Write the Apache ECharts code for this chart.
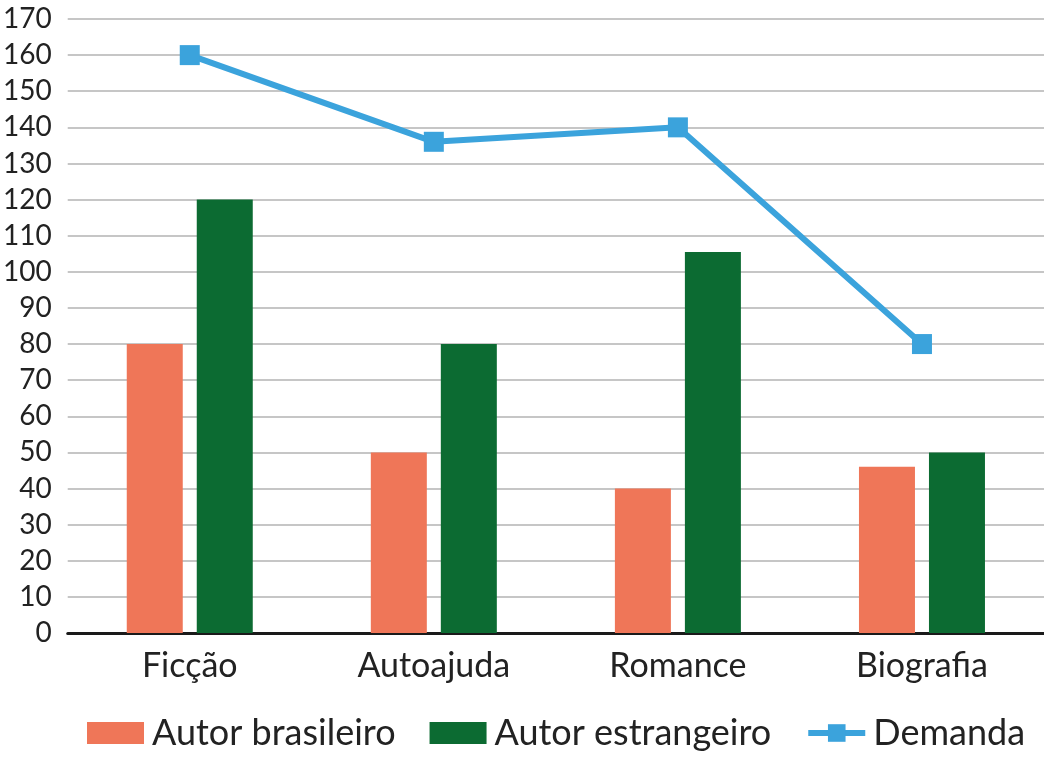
<!DOCTYPE html>
<html>
<head>
<meta charset="utf-8">
<script src="https://cdn.jsdelivr.net/npm/echarts@6/dist/echarts.min.js"></script>
<style>
html,body{margin:0;padding:0;background:#fff;}
#main{width:1044px;height:762px;}
</style>
</head>
<body>
<div id="main"></div>
<script>
var categorias = ['Ficção', 'Autoajuda', 'Romance', 'Biografia'];
var autorBrasileiro = [80, 50, 40, 46];      // barras laranja
var autorEstrangeiro = [120, 80, 105.5, 50]; // barras verdes
var demanda = [160, 136, 140, 80];           // linha azul

var fonte = 'Lato';

var myChart = echarts.init(document.getElementById('main'));
var option = {
    animation: false,
    textStyle: { fontFamily: fonte },
    grid: {
        left: 67,
        right: 0,
        top: 19,
        bottom: 129,
        containLabel: false
    },
    legend: {
        bottom: 6,
        left: 82,
        itemWidth: 57,
        itemHeight: 22,
        itemGap: 34,
        textStyle: { fontSize: 36, color: '#222', fontFamily: fonte, padding: [0, 0, 0, 3] },
        lineStyle: { width: 6 },
        data: [
            { name: 'Autor brasileiro', icon: 'rect' },
            { name: 'Autor estrangeiro', icon: 'rect' },
            { name: 'Demanda' }
        ]
    },
    xAxis: {
        type: 'category',
        data: categorias,
        axisLine: { lineStyle: { color: '#1a1a1a', width: 3 } },
        axisTick: { show: false },
        axisLabel: { fontSize: 34, color: '#222', margin: 16, fontFamily: fonte }
    },
    yAxis: {
        type: 'value',
        min: 0,
        max: 170,
        interval: 10,
        axisLine: { show: false },
        axisTick: { show: false },
        axisLabel: { fontSize: 28, color: '#222', margin: 16, fontFamily: fonte },
        splitLine: { lineStyle: { color: '#c6c6c6', width: 2 } }
    },
    series: [
        {
            name: 'Autor brasileiro',
            type: 'bar',
            barWidth: 56,
            barGap: '25%',
            itemStyle: { color: '#EF7658' },
            data: autorBrasileiro
        },
        {
            name: 'Autor estrangeiro',
            type: 'bar',
            barWidth: 56,
            barGap: '25%',
            itemStyle: { color: '#0C6B32' },
            data: autorEstrangeiro
        },
        {
            name: 'Demanda',
            type: 'line',
            symbol: 'rect',
            symbolSize: 20,
            lineStyle: { color: '#3BA3DC', width: 6 },
            itemStyle: { color: '#3BA3DC' },
            data: demanda
        }
    ]
};
myChart.setOption(option);
</script>
</body>
</html>
